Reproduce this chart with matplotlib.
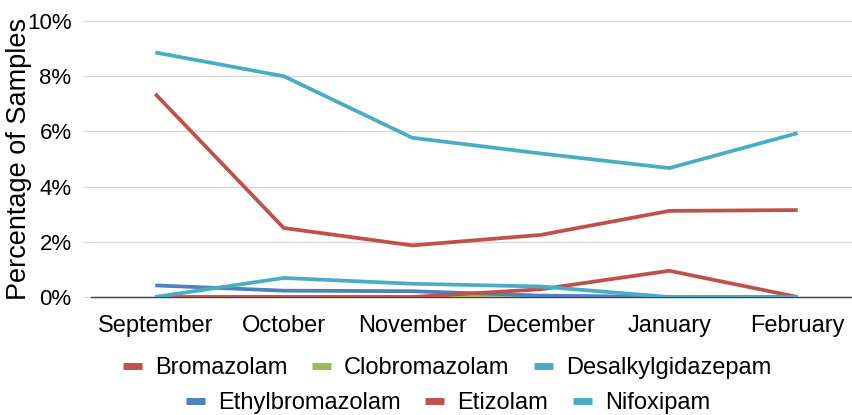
import matplotlib.pyplot as plt
from matplotlib.ticker import FuncFormatter

plt.rcParams['font.family'] = ['Liberation Sans', 'DejaVu Sans']

months = ['September', 'October', 'November', 'December', 'January', 'February']

bromazolam = [7.36, 2.50, 1.87, 2.25, 3.12, 3.15]
clobromazolam = [0, 0, 0, 0, 0, 0]
desalkylgidazepam = [8.86, 8.00, 5.77, 5.20, 4.67, 5.94]
ethylbromazolam = [0.42, 0.23, 0.21, 0.05, 0, 0]
etizolam = [0, 0, 0, 0.28, 0.95, 0]
nifoxipam = [0, 0.69, 0.48, 0.38, 0, 0]

series = [
    ('Bromazolam', bromazolam, '#C0504D'),
    ('Clobromazolam', clobromazolam, '#9BBB59'),
    ('Desalkylgidazepam', desalkylgidazepam, '#4BACC6'),
    ('Ethylbromazolam', ethylbromazolam, '#4F81BD'),
    ('Etizolam', etizolam, '#C0504D'),
    ('Nifoxipam', nifoxipam, '#4BACC6'),
]

fig = plt.figure(figsize=(8.53, 4.15), dpi=100)
ax = fig.add_axes([91 / 853, 1 - 297 / 415, (853 - 91) / 853, (297 - 21) / 415])

x = list(range(len(months)))
handles = []
for name, vals, color in series:
    line, = ax.plot(x, vals, color=color, lw=2.7, label=name, solid_capstyle='butt', zorder=3)
    handles.append(line)

ax.set_ylim(0, 10)
ax.set_xlim(-0.5, 5.43)
ax.set_yticks(range(0, 11, 2))
ax.yaxis.set_major_formatter(FuncFormatter(lambda v, p: f'{int(v)}%'))
ax.set_xticks(x)
ax.set_xticklabels(months)
ax.grid(axis='y', color='#D9D9D9', lw=1)
ax.set_axisbelow(True)
for s in ['top', 'right', 'left']:
    ax.spines[s].set_visible(False)
ax.spines['bottom'].set_color('#404040')
ax.spines['bottom'].set_linewidth(1)
ax.tick_params(axis='y', length=6, color='#D9D9D9', labelsize=16, pad=8)
ax.tick_params(axis='x', length=0, labelsize=17, pad=13)
ax.set_ylabel('Percentage of Samples', fontsize=19.5)
ax.yaxis.set_label_coords(-0.077, 0.5)

kw = dict(loc='center', ncol=3, frameon=False, fontsize=17, handlelength=0.8,
          handletextpad=0.55, columnspacing=1.05)
leg1 = fig.legend(handles[:3], [s[0] for s in series[:3]],
                  bbox_to_anchor=(447 / 853, 1 - 368 / 415), **kw)
leg2 = fig.legend(handles[3:], [s[0] for s in series[3:]],
                  bbox_to_anchor=(448 / 853, 1 - 403 / 415), **kw)
for leg in (leg1, leg2):
    for h in leg.legend_handles:
        h.set_linewidth(5)

plt.savefig('out.png', dpi=100)
